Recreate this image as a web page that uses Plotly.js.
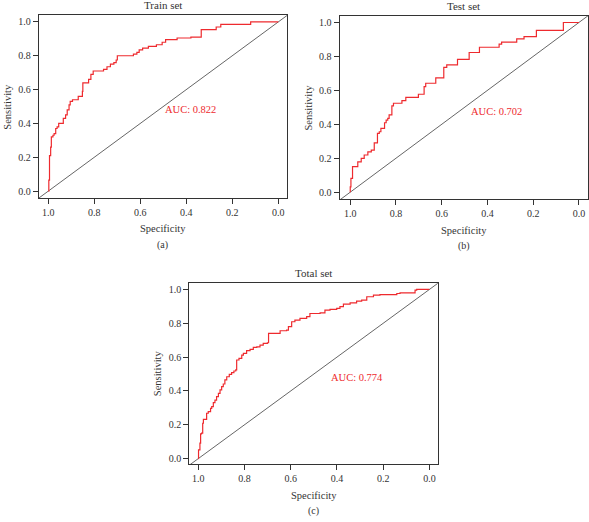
<!DOCTYPE html>
<html>
<head>
<meta charset="utf-8">
<script src="https://cdn.plot.ly/plotly-3.0.1.min.js"></script>
<style>html,body{margin:0;padding:0;background:#fff;}#chart{width:589px;height:522px;}</style>
</head>
<body>
<div id="chart"></div>
<script>
// Panel (a) Train set
const trainSpec = [1.000,1.000,0.998,0.995,0.990,0.987,0.980,0.975,0.968,0.962,0.955,0.940,0.935,0.925,0.918,0.910,0.905,0.895,0.880,0.870,0.855,0.852,0.850,0.835,0.825,0.815,0.805,0.770,0.760,0.745,0.730,0.715,0.705,0.700,0.650,0.630,0.615,0.605,0.590,0.565,0.530,0.505,0.490,0.440,0.380,0.335,0.270,0.250,0.120,0.000];
const trainSens = [0.000,0.000,0.065,0.210,0.260,0.320,0.330,0.340,0.370,0.380,0.400,0.400,0.430,0.450,0.480,0.510,0.530,0.540,0.540,0.560,0.560,0.590,0.640,0.640,0.660,0.690,0.710,0.710,0.720,0.735,0.750,0.760,0.775,0.800,0.800,0.810,0.820,0.835,0.845,0.855,0.865,0.880,0.895,0.905,0.910,0.955,0.970,0.985,1.000,1.000];
// Panel (b) Test set
const testSpec = [1.000,1.000,0.997,0.990,0.967,0.952,0.939,0.923,0.908,0.895,0.881,0.873,0.866,0.850,0.843,0.836,0.830,0.818,0.811,0.774,0.757,0.702,0.677,0.670,0.626,0.591,0.578,0.531,0.480,0.435,0.349,0.338,0.272,0.240,0.186,0.068,0.000];
const testSens = [0.000,0.031,0.081,0.150,0.179,0.199,0.219,0.238,0.248,0.291,0.346,0.356,0.376,0.409,0.425,0.435,0.455,0.508,0.524,0.539,0.559,0.577,0.622,0.642,0.673,0.736,0.750,0.783,0.823,0.854,0.872,0.884,0.904,0.917,0.953,1.000,1.000];
// Panel (c) Total set
const totalSpec = [1.000,0.999,0.996,0.993,0.990,0.986,0.981,0.978,0.968,0.964,0.957,0.947,0.942,0.935,0.928,0.921,0.913,0.906,0.899,0.892,0.885,0.877,0.866,0.856,0.846,0.838,0.834,0.824,0.812,0.805,0.791,0.776,0.762,0.747,0.733,0.719,0.701,0.696,0.654,0.646,0.618,0.610,0.596,0.582,0.560,0.531,0.517,0.473,0.452,0.430,0.401,0.387,0.372,0.343,0.315,0.293,0.271,0.242,0.214,0.141,0.127,0.069,0.062,0.055,0.000];
const totalSens = [0.000,0.051,0.051,0.091,0.146,0.150,0.209,0.232,0.232,0.268,0.278,0.297,0.307,0.331,0.346,0.366,0.386,0.406,0.425,0.441,0.465,0.484,0.498,0.508,0.518,0.524,0.583,0.593,0.612,0.622,0.638,0.646,0.657,0.661,0.671,0.681,0.685,0.740,0.740,0.756,0.760,0.780,0.809,0.819,0.829,0.839,0.858,0.862,0.878,0.882,0.888,0.898,0.913,0.921,0.931,0.937,0.957,0.967,0.970,0.976,0.980,0.980,0.996,1.000,1.000];

const panelTitles = ["Train set", "Test set", "Total set"];
const aucLabels = ["AUC: 0.822", "AUC: 0.702", "AUC: 0.774"];
const captions = ["(a)", "(b)", "(c)"];
const xTickVals = [1.0, 0.8, 0.6, 0.4, 0.2, 0.0];
const xTickText = ["1.0", "0.8", "0.6", "0.4", "0.2", "0.0"];
const yTickVals = [0.0, 0.2, 0.4, 0.6, 0.8, 1.0];
const yTickText = ["0.0", "0.2", "0.4", "0.6", "0.8", "1.0"];
const diagX = [1.1, -0.1];
const diagY = [-0.1, 1.1];

const W = 589, H = 522;
const FONT = "Liberation Serif, Times New Roman, serif";
const RED = "#ee2a2e";
const TXT = "#333333";

// boxes in pixels: [left, right, top, bottom]
const boxes = [
  [38.7, 287, 15, 198],
  [339.5, 588.3, 15.7, 199.3],
  [189.3, 437.7, 282.7, 464]
];
// x ranges (left, right), y ranges
const xRanges = [[1.042, -0.038], [1.047, -0.041], [1.039, -0.036]];
const yRanges = [[-0.041, 1.041], [-0.042, 1.040], [-0.032, 1.04]];
const aucPos = [[0.50, 0.48], [0.48, 0.478], [0.433, 0.48]];

const specs = [trainSpec, testSpec, totalSpec];
const sens = [trainSens, testSens, totalSens];

const data = [];
const layout = {
  width: W, height: H,
  margin: {l: 0, r: 0, t: 0, b: 0},
  paper_bgcolor: "#ffffff",
  plot_bgcolor: "#ffffff",
  showlegend: false,
  font: {family: FONT, color: TXT, size: 10},
  annotations: []
};

for (let i = 0; i < 3; i++) {
  const b = boxes[i];
  const xa = i === 0 ? "x" : "x" + (i + 1);
  const ya = i === 0 ? "y" : "y" + (i + 1);
  const xk = i === 0 ? "xaxis" : "xaxis" + (i + 1);
  const yk = i === 0 ? "yaxis" : "yaxis" + (i + 1);
  layout[xk] = {
    domain: [b[0] / W, b[1] / W],
    anchor: ya,
    range: xRanges[i],
    tickvals: xTickVals, ticktext: xTickText,
    ticks: "outside", ticklen: 5, tickwidth: 1, tickcolor: "#333",
    showline: true, linecolor: "#333", linewidth: 1, mirror: true,
    showgrid: false, zeroline: false,
    tickfont: {family: FONT, size: 10, color: TXT}
  };
  layout[yk] = {
    domain: [1 - b[3] / H, 1 - b[2] / H],
    anchor: xa,
    range: yRanges[i],
    tickvals: yTickVals, ticktext: yTickText,
    ticks: "outside", ticklen: 5, tickwidth: 1, tickcolor: "#333",
    showline: true, linecolor: "#333", linewidth: 1, mirror: true,
    showgrid: false, zeroline: false,
    tickfont: {family: FONT, size: 10, color: TXT}
  };
  data.push({
    x: diagX, y: diagY, xaxis: xa, yaxis: ya, mode: "lines",
    line: {color: "#666666", width: 1}, hoverinfo: "skip"
  });
  data.push({
    x: specs[i], y: sens[i], xaxis: xa, yaxis: ya, mode: "lines",
    line: {color: RED, width: 1.2, shape: "hv"}
  });
  const cx = (b[0] + b[1]) / 2;
  // panel title
  layout.annotations.push({
    text: panelTitles[i], xref: "paper", yref: "paper",
    x: cx / W, y: 1 - (b[2] - 10) / H, xanchor: "center", yanchor: "middle",
    showarrow: false, font: {family: FONT, size: 11, color: TXT}
  });
  // x axis title
  layout.annotations.push({
    text: "Specificity", xref: "paper", yref: "paper",
    x: cx / W, y: 1 - (b[3] + 31) / H, xanchor: "center", yanchor: "middle",
    showarrow: false, font: {family: FONT, size: 10.5, color: TXT}
  });
  // y axis title
  layout.annotations.push({
    text: "Sensitivity", xref: "paper", yref: "paper",
    x: (b[0] - 31.5) / W, y: 1 - ((b[2] + b[3]) / 2) / H, xanchor: "center", yanchor: "middle",
    textangle: -90, showarrow: false, font: {family: FONT, size: 10.5, color: TXT}
  });
  // caption
  layout.annotations.push({
    text: captions[i], xref: "paper", yref: "paper",
    x: cx / W, y: 1 - (b[3] + 47) / H, xanchor: "center", yanchor: "middle",
    showarrow: false, font: {family: FONT, size: 10, color: TXT}
  });
  // AUC label
  layout.annotations.push({
    text: aucLabels[i], xref: xa, yref: ya,
    x: aucPos[i][0], y: aucPos[i][1], xanchor: "left", yanchor: "middle",
    showarrow: false, font: {family: FONT, size: 10.5, color: RED}
  });
}

Plotly.newPlot("chart", data, layout, {staticPlot: true, displayModeBar: false});
</script>
</body>
</html>
